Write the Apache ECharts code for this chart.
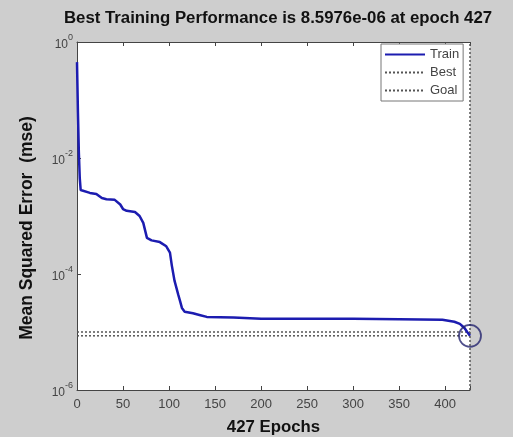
<!DOCTYPE html>
<html><head><meta charset="utf-8">
<script src="https://cdn.jsdelivr.net/npm/echarts@6/dist/echarts.min.js"></script>
<style>html,body{margin:0;padding:0;background:#cecece;}#c{width:513px;height:437px;}</style>
</head><body><div id="c"></div>
<script>
// ---- data ----
const titleText = 'Best Training Performance is 8.5976e-06 at epoch 427';
const xName = '427 Epochs';
const yName = 'Mean Squared Error  (mse)';
const xTicks = [0, 50, 100, 150, 200, 250, 300, 350, 400];
const yTicks = [1e-6, 1e-4, 1e-2, 1];
const epochs = [0, 1, 2, 3, 4, 6, 14, 21, 27, 32, 41, 47, 50, 54, 63, 68, 72, 76, 81, 90, 97, 101, 103, 106, 110, 112, 114, 117, 126, 134, 141, 170, 200, 250, 300, 350, 397, 410, 416, 421, 424, 427];
const trainMse = [0.45, 0.063, 0.0126, 0.0045, 0.0028, 0.00263, 0.0025, 0.0024, 0.00204, 0.00195, 0.0019, 0.00158, 0.00132, 0.00123, 0.00117, 0.001, 0.00076, 0.00042, 0.00038, 0.000355, 0.0003, 0.000234, 0.000141, 7.6e-5, 4.4e-5, 3.4e-5, 2.6e-5, 2.24e-5, 2.1e-5, 1.95e-5, 1.82e-5, 1.78e-5, 1.7e-5, 1.7e-5, 1.7e-5, 1.66e-5, 1.62e-5, 1.5e-5, 1.38e-5, 1.17e-5, 1.0e-5, 8.5976e-6];
const bestEpoch = 427;
const bestValue = 8.5976e-6;
const goalValue = 1e-5;
const legendNames = ['Train', 'Best', 'Goal'];

const trainData = epochs.map((e, i) => [e, trainMse[i]]);
const chart = echarts.init(document.getElementById('c'), null, {renderer: 'canvas'});
const fontF = 'Liberation Sans, Arial, sans-serif';
const option = {
  backgroundColor: '#cecece',
  animation: false,
  title: {
    text: titleText, left: 273, top: 5, textAlign: 'center',
    textStyle: {fontFamily: fontF, fontSize: 16.8, fontWeight: 'bold', color: '#111'}
  },
  grid: {left: 77, right: 43, top: 42, bottom: 47, show: true, backgroundColor: '#fff', borderWidth: 0,
    containLabel: false, outerBoundsMode: 'none'},
  legend: {
    data: legendNames, orient: 'vertical', left: 381, top: 44,
    itemWidth: 40, itemHeight: 10, itemGap: 5,
    itemStyle: {opacity: 0},
    backgroundColor: '#fff', borderColor: '#777', borderWidth: 1, borderRadius: 0,
    padding: [4, 4, 4, 3],
    textStyle: {fontFamily: fontF, fontSize: 13, color: '#444'}
  },
  xAxis: [{
    type: 'value', min: 0, max: bestEpoch, interval: 50,
    name: xName, nameLocation: 'middle', nameGap: 29,
    nameTextStyle: {fontFamily: fontF, fontSize: 16.8, fontWeight: 'bold', color: '#111'},
    axisLine: {show: true, onZero: false, lineStyle: {color: '#444'}},
    axisTick: {show: true, inside: true, length: 4, lineStyle: {color: '#444'}},
    axisLabel: {fontFamily: fontF, fontSize: 13, color: '#444', margin: 8,
      formatter: v => xTicks.indexOf(v) >= 0 ? String(v) : ''},
    splitLine: {show: false}
  }, {
    type: 'value', min: 0, max: bestEpoch, interval: 50, position: 'top',
    axisLine: {show: true, onZero: false, lineStyle: {color: '#444'}},
    axisTick: {show: true, inside: true, length: 4, lineStyle: {color: '#444'}},
    axisLabel: {show: false}, splitLine: {show: false}
  }],
  yAxis: {
    type: 'log', logBase: 100, min: yTicks[0], max: yTicks[yTicks.length - 1],
    axisLine: {show: true, onZero: false, lineStyle: {color: '#444'}},
    axisTick: {show: true, inside: true, length: 4, lineStyle: {color: '#444'}},
    minorTick: {show: false}, splitLine: {show: false},
    axisLabel: {
      margin: 4,
      formatter: v => '{b|10}{s|' + Math.round(Math.log10(v)) + '}',
      rich: {
        b: {fontFamily: fontF, fontSize: 12, color: '#444', verticalAlign: 'bottom'},
        s: {fontFamily: fontF, fontSize: 9, color: '#444', verticalAlign: 'top', padding: [0, 0, 8, 0]}
      }
    }
  },
  graphic: [{
    type: 'text', x: 27, y: 228, rotation: Math.PI / 2,
    style: {text: yName, fontFamily: fontF, fontSize: 17.5, fontWeight: 'bold', fill: '#111',
      align: 'center', verticalAlign: 'middle'}
  }],
  series: [{
    name: 'Best', type: 'line', data: [[0, bestValue], [bestEpoch, bestValue]],
    symbol: 'none', silent: true, z: 2,
    lineStyle: {type: [2, 2], color: '#555', width: 1.5}, itemStyle: {color: '#555'},
    markLine: {
      silent: true, symbol: 'none', label: {show: false},
      lineStyle: {type: [2, 2], color: '#555', width: 1.5},
      data: [{xAxis: bestEpoch}]
    }
  }, {
    name: 'Goal', type: 'line', data: [[0, goalValue], [bestEpoch, goalValue]],
    symbol: 'none', silent: true, z: 2,
    lineStyle: {type: [2, 2], color: '#555', width: 1.5}, itemStyle: {color: '#555'}
  }, {
    name: 'Train', type: 'line', data: trainData, symbol: 'none', z: 5,
    lineStyle: {color: '#1c1cb0', width: 2.5}, itemStyle: {color: '#1c1cb0'}
  }, {
    name: 'BestPoint', type: 'scatter', data: [[bestEpoch, bestValue]], z: 6,
    symbol: 'circle', symbolSize: 22,
    itemStyle: {color: 'rgba(0,0,0,0)', borderColor: '#23236e', borderWidth: 1.8}
  }]
};
chart.setOption(option);
</script></body></html>
